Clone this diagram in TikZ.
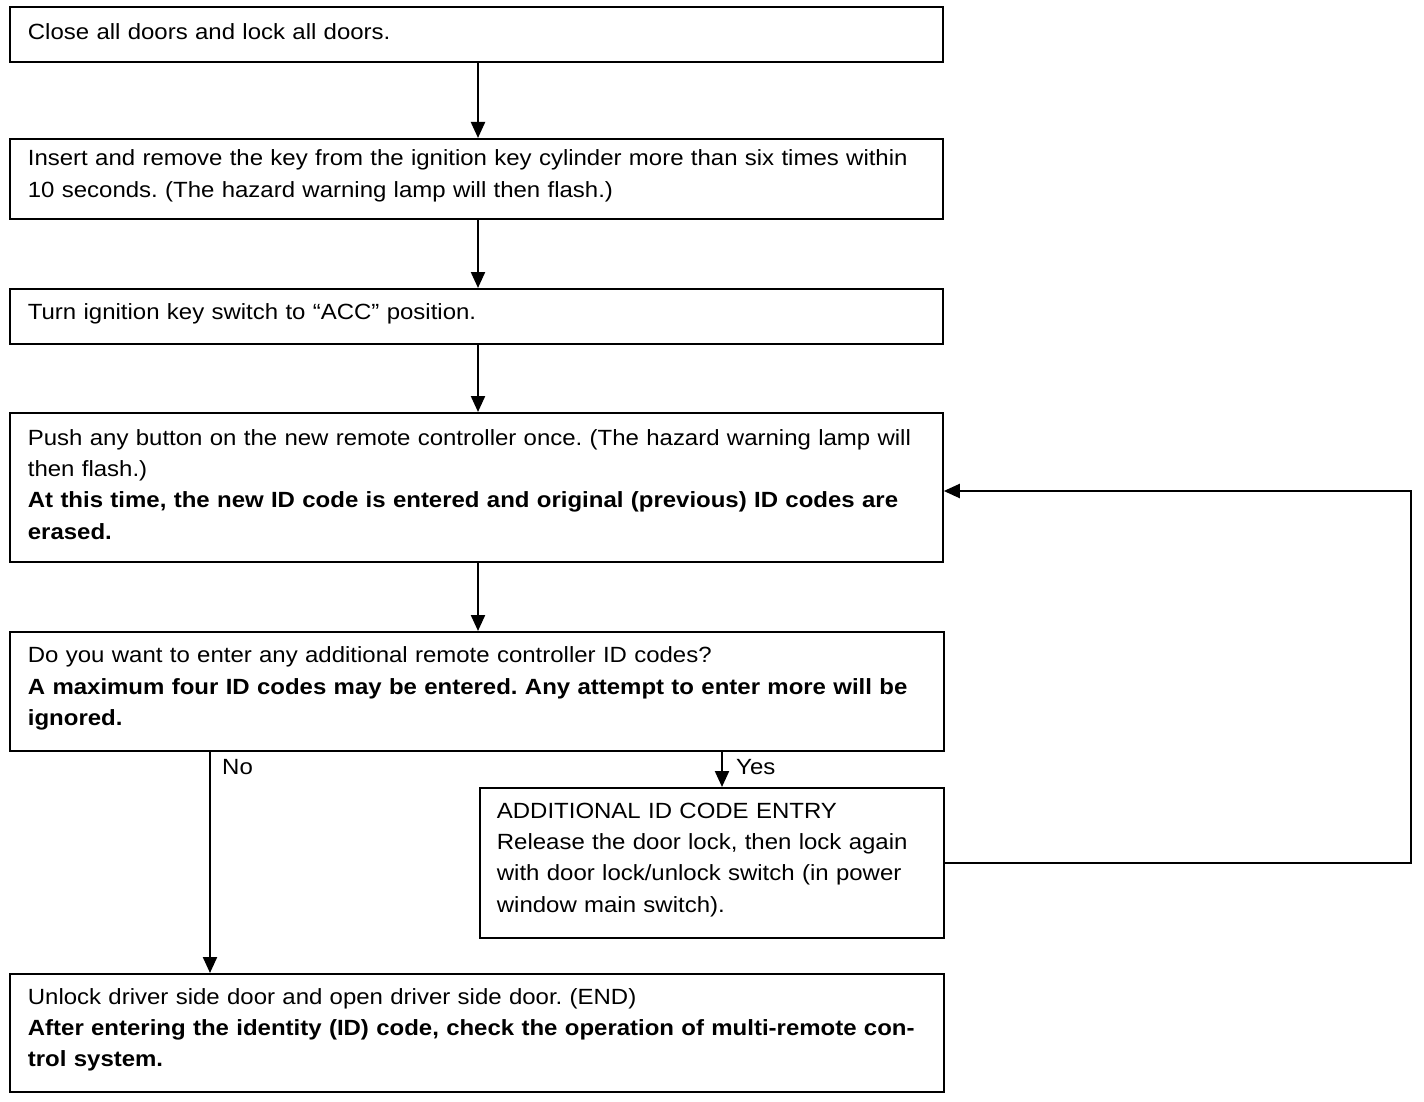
\documentclass[tikz,border=0pt]{standalone}
\usepackage{fontspec}
\setmainfont{Liberation Sans}[FakeStretch=1.09]
\usetikzlibrary{arrows.meta}
\frenchspacing
\newcommand\padbottom{\endgraf\vspace*{6pt}}
\begin{document}
\begin{tikzpicture}[x=1pt,y=-1pt,
  box/.style={draw,line width=1.8pt,rectangle,anchor=north west,align=left,
    inner xsep=18pt,inner ysep=0pt,text width=897pt,
    font=\fontsize{22}{31.3}\selectfont,
    execute at end node=\padbottom},
  conn/.style={line width=2.2pt,-{Triangle[length=16pt,width=14pt]}},
  lbl/.style={anchor=west,inner sep=0pt,font=\fontsize{22}{31.3}\selectfont}]
\useasboundingbox (0,0) rectangle (1424,1102);
\node[box,minimum height=55pt] (b1) at (9,6) {Close all doors and lock all doors.};
\node[box,minimum height=80pt] (b2) at (9,138) {Insert and remove the key from the ignition key cylinder more than six times within\\10 seconds. (The hazard warning lamp will then flash.)};
\node[box,minimum height=55pt] (b3) at (9,288) {Turn ignition key switch to ``ACC'' position.};
\node[box,minimum height=149pt] (b4) at (9,412) {Push any button on the new remote controller once. (The hazard warning lamp will\\then flash.)\\\textbf{At this time, the new ID code is entered and original (previous) ID codes are}\\\textbf{erased.}};
\node[box,minimum height=119pt,text width=898pt] (b5) at (9,631) {Do you want to enter any additional remote controller ID codes?\\\textbf{A maximum four ID codes may be entered. Any attempt to enter more will be}\\\textbf{ignored.}};
\node[box,minimum height=150pt,text width=430pt,inner xsep=17pt] (b6) at (479,787) {ADDITIONAL ID CODE ENTRY\\Release the door lock, then lock again\\with door lock/unlock switch (in power\\window main switch).};
\node[box,minimum height=118pt,text width=898pt] (b7) at (9,973) {Unlock driver side door and open driver side door. (END)\\\textbf{After entering the identity (ID) code, check the operation of multi-remote con-}\\\textbf{trol system.}};
\coordinate (mx) at (478,0);
\coordinate (nox) at (210,0);
\coordinate (yesx) at (722,0);
\coordinate (fb) at (1411,491);
\draw[conn] (b1.south -| mx) -- (b2.north -| mx);
\draw[conn] (b2.south -| mx) -- (b3.north -| mx);
\draw[conn] (b3.south -| mx) -- (b4.north -| mx);
\draw[conn] (b4.south -| mx) -- (b5.north -| mx);
\draw[conn] (b5.south -| nox) -- (b7.north -| nox);
\draw[conn] (b5.south -| yesx) -- (b6.north -| yesx);
\draw[conn] (b6.east) -| (fb) -- (b4.east |- fb);
\node[lbl] (no) at (222,767) {No};
\node[lbl] (yes) at (736,767) {Yes};
\end{tikzpicture}
\end{document}
